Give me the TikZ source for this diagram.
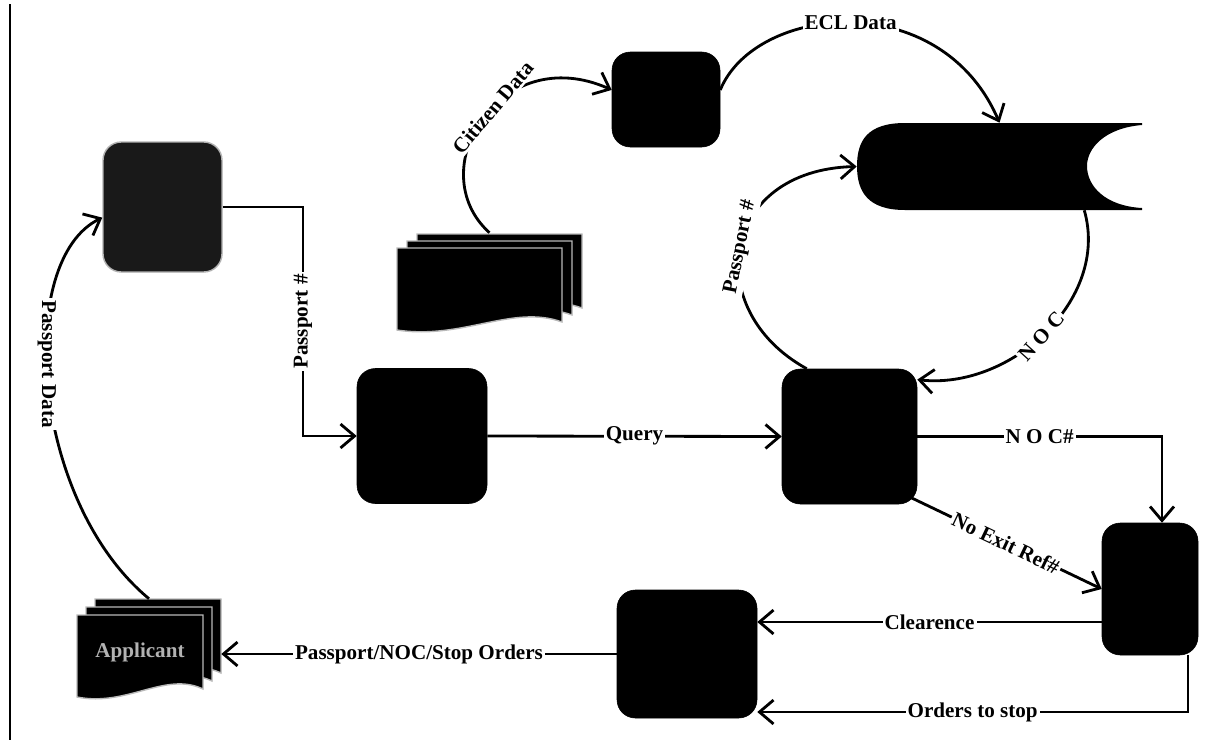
\documentclass[tikz,border=0pt]{standalone}
\usepackage{fontspec}
\setmainfont{Liberation Serif}
\usetikzlibrary{arrows.meta,calc}
\newcommand{\dsheet}[4]{%
 \filldraw[sheet] (#1,#2) -- ({#1+#3},#2) -- ({#1+#3},{#2+#4-8}) .. controls ({#1+0.7*#3},{#2+#4-26}) and ({#1+0.4*#3},{#2+#4+10}) .. (#1,{#2+#4}) -- cycle;}
\begin{document}
\begin{tikzpicture}[x=0.025cm,y=-0.025cm,
 box/.style={draw=black, fill=black, rounded corners=13pt, inner sep=0pt},
 conn/.style={line width=2pt, -{Straight Barb[length=10pt,width=17pt,line width=2pt]}},
 lab/.style={fill=white, inner sep=1.5pt, font=\fontsize{15}{17}\selectfont\bfseries},
 sheet/.style={fill=black, draw=gray!55, line width=1pt},
 region/.style={inner sep=0pt, draw=none}]
\useasboundingbox (0,0) rectangle (1228,744);
\fill[white] (0,0) rectangle (1228,744);
% frame line
\draw[line width=1.4pt] (10,4) -- (10,740);
% document stacks
\dsheet{417}{234}{165}{82}
\dsheet{407}{241}{165}{82}
\dsheet{397}{248}{165}{82}
\dsheet{95}{599}{126}{82}
\dsheet{86}{607}{126}{82}
\dsheet{77}{615}{126}{82}
% store shape
\fill (905,123) -- (1142,123) -- (1142,125) .. controls (1105,128) and (1087,148) .. (1087,166)
  .. controls (1087,186) and (1105,206) .. (1142,208) -- (1142,210) -- (905,210)
  .. controls (868,210) and (857,192) .. (857,166) .. controls (857,140) and (868,123) .. (905,123) -- cycle;
% nodes
\node[box, fill=black!90, draw=gray!60, line width=1pt, minimum width={119*0.025cm}, minimum height={130*0.025cm}] (S) at (162.5,207) {};
\node[box, minimum width={108*0.025cm}, minimum height={95*0.025cm}] (A) at (666,99.5) {};
\node[box, minimum width={130*0.025cm}, minimum height={135*0.025cm}] (Q) at (422,436) {};
\node[box, minimum width={135*0.025cm}, minimum height={135*0.025cm}] (C) at (849.5,436.5) {};
\node[box, minimum width={96*0.025cm}, minimum height={132*0.025cm}] (R) at (1150,589) {};
\node[box, minimum width={140*0.025cm}, minimum height={128*0.025cm}] (B) at (687,654) {};
\node[region, minimum width={185*0.025cm}, minimum height={102*0.025cm}] (cit) at (489.5,284) {};
\node[region, minimum width={144*0.025cm}, minimum height={100*0.025cm}] (app) at (149,649) {};
\node[region, minimum width={285*0.025cm}, minimum height={87*0.025cm}] (ecl) at (999.5,166.5) {};
\node[font=\fontsize{15}{17}\selectfont\bfseries, text=gray!60] (apptxt) at (140,652) {Applicant};
% helper coordinates
\coordinate (pv) at (303,0);
\coordinate (xnoc) at (1162,0);
\coordinate (yclr) at (0,622);
\coordinate (yord) at (0,712);
\coordinate (xord) at (1188,0);
% connectors
\draw[conn] (app.north) .. controls (30,500) and (15,260) .. (S.190) node[lab,pos=0.55,rotate=-90]{Passport Data};
\draw[conn] (S.east) -- (S.east -| pv) |- (Q.west) node[lab,pos=0.25,rotate=90]{Passport \#};
\draw[conn] (Q.east) -- (C.west) node[lab,midway]{Query};
\draw[conn] (C.east) -| (R.north -| xnoc) node[lab,pos=0.25]{N O C\#};
\draw[conn] ($(C.south east)+(-7,-7)$) -- (R.west) node[lab,midway,rotate=-25.4]{No Exit Ref\#};
\draw[conn] (R.west |- yclr) -- (B.east |- yclr) node[lab,midway]{Clearence};
\draw[conn] (R.south -| xord) |- (B.east |- yord) node[lab,pos=0.75]{Orders to stop};
\draw[conn] (B.west) -- (app.east |- B.west) node[lab,midway]{Passport/NOC/Stop Orders};
\draw[conn] (cit.north) .. controls (420,170) and (500,40) .. (A.170) node[lab,pos=0.56,rotate=50]{Citizen Data};
\draw[conn] (A.10) .. controls (755,5) and (940,-15) .. (ecl.north) node[lab,pos=0.5]{ECL Data};
\draw[conn] ($(C.north west)+(25,0)$) .. controls (700,310) and (720,170) .. (ecl.west) node[lab,pos=0.5,rotate=78.5]{Passport \#};
\draw[conn] ($(ecl.south east)+(-58,0)$) .. controls (1110,300) and (1010,390) .. (C.40) node[lab,pos=0.52,rotate=48]{N O C};
\end{tikzpicture}
\end{document}
